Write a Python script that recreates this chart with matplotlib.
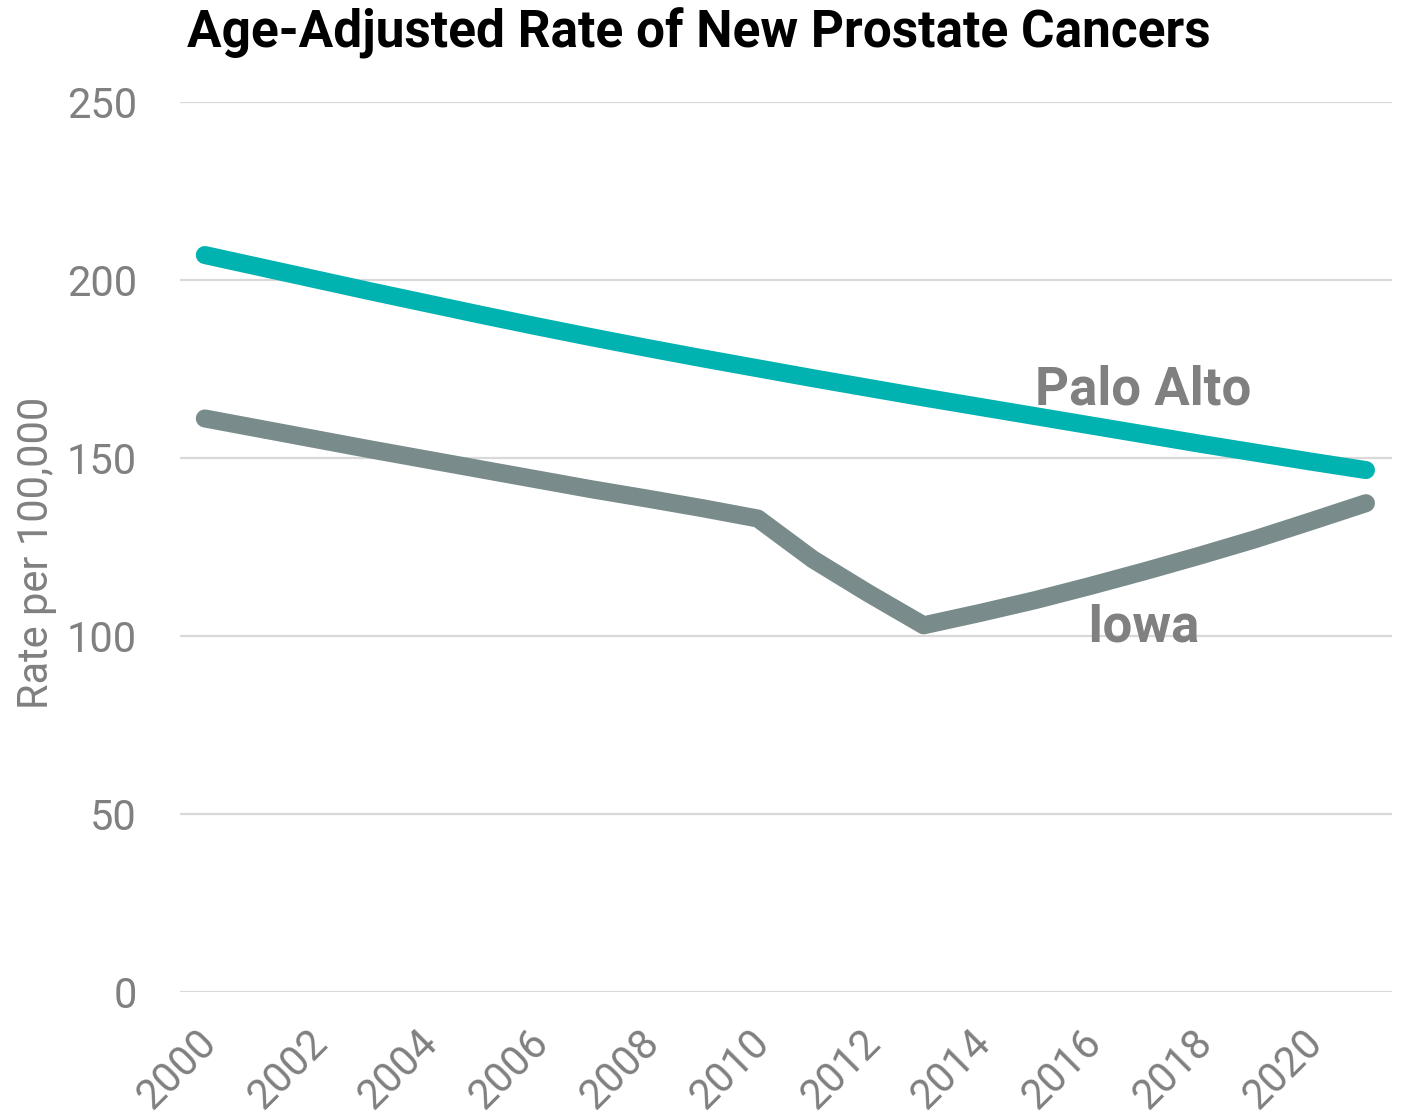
import matplotlib
matplotlib.use("Agg")
import matplotlib.pyplot as plt
from matplotlib.transforms import ScaledTranslation

years = list(range(2000, 2022))
palo_alto = [207.0, 203.6, 200.2, 196.8, 193.5, 190.2, 187.0, 183.9, 180.9, 178.0, 175.2,
             172.4, 169.7, 167.0, 164.4, 161.8, 159.2, 156.6, 154.0, 151.5, 149.0, 146.6]
iowa = [161.1, 158.2, 155.3, 152.4, 149.6, 146.8, 144.0, 141.2, 138.6, 135.9, 133.0,
        121.5, 112.0, 103.0, 106.4, 110.0, 114.0, 118.2, 122.6, 127.2, 132.2, 137.3]
x_ticks = list(range(2000, 2021, 2))
y_ticks = [0, 50, 100, 150, 200, 250]

title = "Age-Adjusted Rate of New Prostate Cancers"
y_label = "Rate per 100,000"

TEAL = "#00b2b0"
SLATE = "#7a8b8b"
TEXT_GRAY = "#808080"
GRID = "#d9d9d9"

plt.rcParams["font.family"] = ["Roboto", "DejaVu Sans"]

fig = plt.figure(figsize=(14.07, 11.18), dpi=100)
ax = fig.add_axes([0.1279, 0.1127, 0.8614, 0.7961])

ax.plot(years, palo_alto, color=TEAL, lw=13, solid_capstyle="round",
        solid_joinstyle="round", clip_on=False, zorder=3)
ax.plot(years, iowa, color=SLATE, lw=13, solid_capstyle="round",
        solid_joinstyle="round", clip_on=False, zorder=3)

ax.set_xlim(1999.55, 2021.47)
ax.set_ylim(0, 250)
ax.set_yticks(y_ticks)
ax.set_xticks(x_ticks)
ax.set_xticklabels([str(t) for t in x_ticks], rotation=45, ha="right",
                   va="top", rotation_mode="anchor")

for s in ax.spines.values():
    s.set_visible(False)
ax.grid(axis="y", color=GRID, lw=1.6, zorder=0)
ax.grid(axis="x", visible=False)
ax.tick_params(axis="both", length=0, labelsize=30, labelcolor=TEXT_GRAY)
ax.tick_params(axis="y", pad=31)
ax.tick_params(axis="x", pad=22)
for lab in ax.get_yticklabels():
    lab.set_horizontalalignment("right")

# nudge the rotated year labels slightly left
shift = ScaledTranslation(-0.09, 0, fig.dpi_scale_trans)
for lab in ax.get_xticklabels():
    lab.set_transform(lab.get_transform() + shift)

ax.set_ylabel(y_label, fontsize=30, color=TEXT_GRAY)
ax.yaxis.set_label_coords(-0.1015, 0.493)

ax.text(2016.97, 169.0, "Palo Alto", fontsize=38, fontweight="bold",
        color=TEXT_GRAY, ha="center", va="center", zorder=4)
ax.text(2016.97, 102.5, "Iowa", fontsize=38, fontweight="bold",
        color=TEXT_GRAY, ha="center", va="center", zorder=4)

fig.text(0.497, 0.970, title, fontsize=37, fontweight="bold",
         color="black", ha="center", va="center")

fig.savefig("out.png", dpi=100, facecolor="white")
